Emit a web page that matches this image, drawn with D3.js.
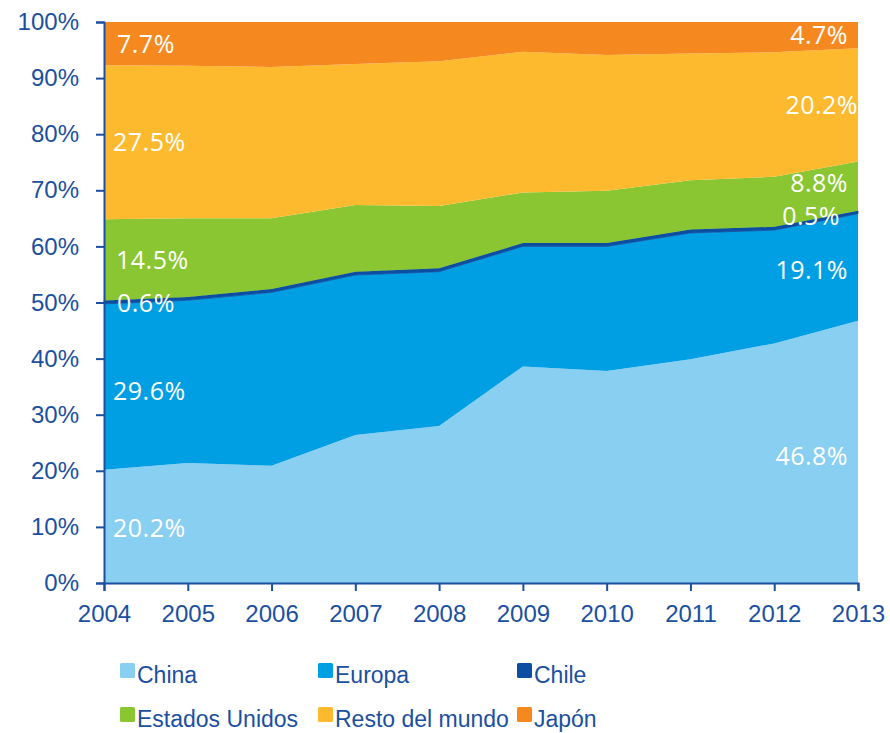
<!DOCTYPE html>
<html>
<head>
<meta charset="utf-8">
<script src="https://cdn.jsdelivr.net/npm/d3@7/dist/d3.min.js"></script>
<style>
  html, body { margin: 0; padding: 0; background: #fff; }
  svg { display: block; }
</style>
</head>
<body>
<svg id="chart" width="890" height="733"></svg>
<script>
// ---- data ----
const years = [2004, 2005, 2006, 2007, 2008, 2009, 2010, 2011, 2012, 2013];
const seriesNames = ["China", "Europa", "Chile", "Estados Unidos", "Resto del mundo", "Japón"];
const china  = [20.2, 21.4, 20.9, 26.4, 28.0, 38.6, 37.8, 39.9, 42.7, 46.8];
const europa = [29.6, 29.0, 30.9, 28.5, 27.5, 21.4, 22.2, 22.5, 20.2, 19.1];
const chile  = [0.6, 0.6, 0.6, 0.6, 0.6, 0.6, 0.6, 0.6, 0.6, 0.5];
const eeuu   = [14.5, 14.0, 12.6, 11.9, 11.1, 9.0, 9.3, 8.8, 8.9, 8.8];
const resto  = [27.5, 27.2, 27.0, 25.1, 25.8, 25.1, 24.2, 22.6, 22.2, 20.2];
const japon  = [7.7, 7.8, 8.0, 7.5, 7.0, 5.3, 5.9, 5.6, 5.4, 4.7];
const yTicks = [0, 10, 20, 30, 40, 50, 60, 70, 80, 90, 100];
const colors = ["#89CFF1", "#009FE3", "#0B4EA2", "#8AC631", "#FDBA2F", "#F5891F"];
// labels: [series index, year, text, anchor, dx, dy]
const labels = [
  [5, 2004, "7.7%", "start", 13, 0],
  [4, 2004, "27.5%", "start", 9, 0],
  [3, 2004, "14.5%", "start", 12, 0],
  [2, 2004, "0.6%", "start", 13, 1],
  [1, 2004, "29.6%", "start", 9, 4],
  [0, 2004, "20.2%", "start", 9, 2],
  [5, 2013, "4.7%", "end", -10, 0],
  [4, 2013, "20.2%", "end", 0, 0],
  [3, 2013, "8.8%", "end", -10, -3],
  [2, 2013, "0.5%", "end", -18, 4],
  [1, 2013, "19.1%", "end", -10, 3],
  [0, 2013, "46.8%", "end", -10, 4]
];

const valuesBySeries = [china, europa, chile, eeuu, resto, japon];
const table = years.map((yr, i) => {
  const row = { year: yr };
  seriesNames.forEach((s, k) => row[s] = valuesBySeries[k][i]);
  return row;
});

// ---- layout ----
const svg = d3.select("#chart");
const mLeft = 104, mRight = 858, mTop = 22, mBottom = 583;
const axisColor = "#1B4FA0";

const x = d3.scaleLinear().domain([years[0], years[years.length - 1]]).range([mLeft, mRight]);
const y = d3.scaleLinear().domain([0, 1]).range([mBottom, mTop]);

const stack = d3.stack().keys(seriesNames).offset(d3.stackOffsetExpand);
const layers = stack(table);

const area = d3.area()
  .x(d => x(d.data.year))
  .y0(d => y(d[0]))
  .y1(d => y(d[1]));

svg.append("g").selectAll("path")
  .data(layers)
  .join("path")
  .attr("d", area)
  .attr("fill", (d, i) => colors[i])
  .attr("stroke", (d, i) => i === 2 ? colors[i] : "none")
  .attr("stroke-width", 0.8);

// ---- axes ----
const yAxis = d3.axisLeft(y)
  .tickValues(yTicks.map(v => v / 100))
  .tickFormat(d => Math.round(d * 100) + "%")
  .tickSize(8)
  .tickPadding(17);
const gy = svg.append("g").attr("transform", `translate(${mLeft},0)`).call(yAxis);

const xAxis = d3.axisBottom(x)
  .tickValues(years)
  .tickFormat(d3.format("d"))
  .tickSize(8)
  .tickPadding(14);
const gx = svg.append("g").attr("transform", `translate(0,${mBottom})`).call(xAxis);

[gy, gx].forEach(g => {
  g.select(".domain").attr("stroke", axisColor).attr("stroke-width", 2);
  g.selectAll(".tick line").attr("stroke", axisColor).attr("stroke-width", 2);
  g.selectAll(".tick text")
    .attr("fill", axisColor)
    .style("font-family", "'Liberation Sans', Arial, sans-serif")
    .style("font-size", "24px");
});

// ---- data labels ----
svg.append("g").selectAll("text")
  .data(labels)
  .join("text")
  .attr("x", d => x(d[1]) + d[4])
  .attr("y", d => {
    const i = years.indexOf(d[1]);
    const p = layers[d[0]][i];
    return y((p[0] + p[1]) / 2) + d[5];
  })
  .attr("dy", "0.36em")
  .attr("text-anchor", d => d[3])
  .attr("fill", "#fff")
  .style("font-family", "'Open Sans', sans-serif")
  .style("font-size", "25px")
  .style("letter-spacing", "0.5px")
  .text(d => d[2]);

// ---- legend ----
const legendCols = [120, 318, 517];
const legendRows = [683, 727];
const lg = svg.append("g");
seriesNames.forEach((name, i) => {
  const cx = legendCols[i % 3], cy = legendRows[Math.floor(i / 3)];
  const g = lg.append("g");
  g.append("rect")
    .attr("x", cx).attr("y", cy - 20)
    .attr("width", 15).attr("height", 15)
    .attr("rx", 1.5)
    .attr("fill", colors[i]);
  g.append("text")
    .attr("x", cx + 17).attr("y", cy)
    .attr("fill", axisColor)
    .style("font-family", "'Liberation Sans', Arial, sans-serif")
    .style("font-size", "23px")
    .text(name);
});
</script>
</body>
</html>
